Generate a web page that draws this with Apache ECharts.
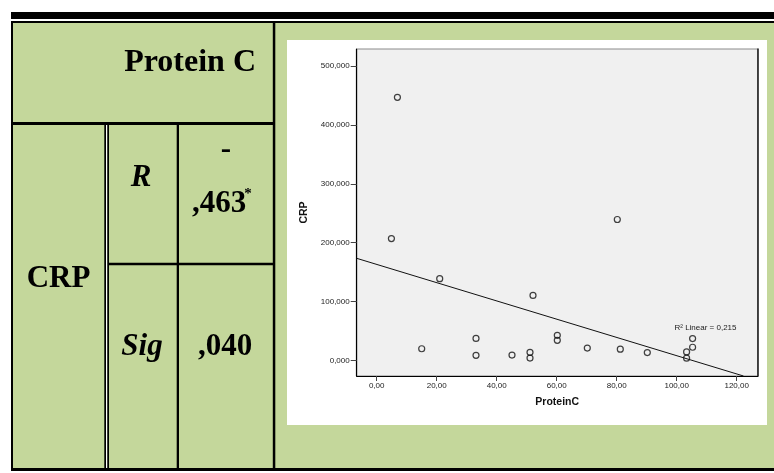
<!DOCTYPE html>
<html>
<head>
<meta charset="utf-8">
<script src="https://cdn.jsdelivr.net/npm/echarts@6/dist/echarts.min.js"></script>
<style>
  html, body { margin: 0; padding: 0; background: #ffffff; }
  #chart { width: 774px; height: 473px; }
</style>
</head>
<body>
<div id="chart"></div>
<script>
// Scatter data: Protein C (x) against CRP (y)
const proteinC = [6.9, 4.9, 21.0, 80.2, 52.1, 15.0, 33.1, 33.1, 45.1, 51.1, 51.1, 60.2, 60.2, 70.2, 81.2, 90.2, 103.3, 103.3, 105.3, 105.3];
const crp      = [447.0, 207.0, 139.0, 239.5, 110.5, 20.0, 37.5, 8.8, 9.3, 13.9, 4.2, 42.7, 34.2, 21.2, 19.3, 13.4, 14.5, 4.0, 37.3, 22.5];

// Axis ticks
const xTicks = [0, 20, 40, 60, 80, 100, 120];
const yTicks = [0, 100, 200, 300, 400, 500];

// Linear fit line and its R squared
const fitIntercept = 163.2;
const fitSlope = -1.55;
const rSquared = 0.215;

// Correlation table text
const columnHeader = 'Protein C';
const rowHeader = 'CRP';
const statNames = ['R', 'Sig'];
const statSign = '-';
const statValues = [',463', ',040'];
const statMark = '*';

const X_MIN = -6.67, X_MAX = 127;
const Y_MIN = -26.3, Y_MAX = 529;

const GREEN = '#c4d79b';
const INK = '#000000';
const SERIF = '"Liberation Serif", "Times New Roman", serif';
const SANS = '"Liberation Sans", Arial, sans-serif';

const commaFixed = (v, d) => v.toFixed(d).replace('.', ',');
const fitAt = x => fitIntercept + fitSlope * x;

// Fit line runs from the left edge of the plot until it meets the bottom of the plot
const fitEndX = Math.min(X_MAX, (Y_MIN - fitIntercept) / fitSlope);
const fitLine = [[X_MIN, fitAt(X_MIN)], [fitEndX, fitAt(fitEndX)]];

const points = proteinC.map((x, i) => [x, crp[i]]);

function box(x, y, w, h, fill, z) {
  return { type: 'rect', shape: { x, y, width: w, height: h }, style: { fill }, z: z, silent: true };
}
function label(text, x, y, font, align) {
  return {
    type: 'text', z: 100, silent: true,
    style: { text, x, y, font, fill: INK, textAlign: align || 'center', textVerticalAlign: 'middle' }
  };
}

const tableGraphics = [
  // cell backgrounds
  box(13, 23, 761, 445, GREEN, -20),
  box(287, 40, 480, 385, '#ffffff', -19),
  // rules
  box(11, 12, 763, 7, INK, 100),
  box(11, 21, 763, 2, INK, 100),
  box(11, 21, 2, 450, INK, 100),
  box(11, 122, 262, 3, INK, 100),
  box(272.8, 21, 2.5, 450, INK, 100),
  box(11, 468, 763, 3, INK, 100),
  box(104.3, 125, 1.7, 343, INK, 100),
  box(106, 125, 1.3, 343, '#ffffff', 100),
  box(107.3, 125, 1.7, 343, INK, 100),
  box(176.7, 125, 2.3, 343, INK, 100),
  box(109, 262.7, 164, 2.6, INK, 100),
  // texts
  label(columnHeader, 256, 63, 'bold 32px ' + SERIF, 'right'),
  label(rowHeader, 58.5, 279, 'bold 31px ' + SERIF),
  label(statNames[0], 141, 177.5, 'italic bold 31px ' + SERIF),
  label(statSign, 226, 150, 'bold 31px ' + SERIF),
  label(statValues[0], 219, 204, 'bold 31px ' + SERIF),
  label(statMark, 248, 194, 'bold 15px ' + SERIF),
  label(statNames[1], 142, 346.5, 'italic bold 31px ' + SERIF),
  label(statValues[1], 225, 346.5, 'bold 31px ' + SERIF)
];

const chart = echarts.init(document.getElementById('chart'), null, { renderer: 'canvas' });

const axisLabelStyle = { fontFamily: SANS, fontSize: 8, color: '#222222' };

chart.setOption({
  animation: false,
  backgroundColor: 'transparent',
  grid: {
    left: 356.7, right: 16.3, top: 49, bottom: 97,
    show: true, backgroundColor: '#f0f0f0', borderColor: '#8a8a8a', borderWidth: 1
  },
  xAxis: {
    type: 'value', min: X_MIN, max: X_MAX,
    name: 'ProteinC', nameLocation: 'middle', nameGap: 21,
    nameTextStyle: { fontFamily: SANS, fontSize: 10.5, fontWeight: 'bold', color: '#111111' },
    axisLine: { show: true, onZero: false, lineStyle: { color: '#000000', width: 1.2 } },
    axisTick: { show: true, customValues: xTicks, length: 5, lineStyle: { color: '#444444' } },
    axisLabel: Object.assign({ customValues: xTicks, margin: 6, formatter: v => commaFixed(v, 2) }, axisLabelStyle),
    splitLine: { show: false }
  },
  yAxis: [{
    type: 'value', min: Y_MIN, max: Y_MAX,
    name: 'CRP', nameLocation: 'middle', nameGap: 41, nameRotate: 90,
    nameTextStyle: { fontFamily: SANS, fontSize: 10.5, fontWeight: 'bold', color: '#111111' },
    axisLine: { show: true, onZero: false, lineStyle: { color: '#000000', width: 1.2 } },
    axisTick: { show: true, customValues: yTicks, length: 6, lineStyle: { color: '#444444' } },
    axisLabel: Object.assign({ customValues: yTicks, margin: 7, formatter: v => commaFixed(v, 3) }, axisLabelStyle),
    splitLine: { show: false }
  }, {
    type: 'value', min: Y_MIN, max: Y_MAX, position: 'right',
    axisLine: { show: true, onZero: false, lineStyle: { color: '#222222', width: 1.6 } },
    axisTick: { show: false }, axisLabel: { show: false }, splitLine: { show: false }
  }],
  series: [{
    type: 'line',
    data: fitLine,
    symbol: 'none',
    clip: true,
    silent: true,
    lineStyle: { color: '#111111', width: 1 },
    z: 3
  }, {
    type: 'scatter',
    data: points,
    symbol: 'circle',
    symbolSize: 6,
    itemStyle: { color: 'rgba(0,0,0,0)', borderColor: '#111111', borderWidth: 1.2 },
    z: 4
  }],
  graphic: tableGraphics
});

// R squared note, placed just above the right end of the fit line
const notePos = chart.convertToPixel({ gridIndex: 0 }, [109.6, 55.2]);
chart.setOption({
  graphic: tableGraphics.concat([{
    type: 'text', z: 100, silent: true,
    style: {
      text: 'R² Linear = ' + commaFixed(rSquared, 3),
      x: notePos[0], y: notePos[1],
      font: '8px ' + SANS, fill: '#222222',
      textAlign: 'center', textVerticalAlign: 'middle'
    }
  }])
});
</script>
</body>
</html>
